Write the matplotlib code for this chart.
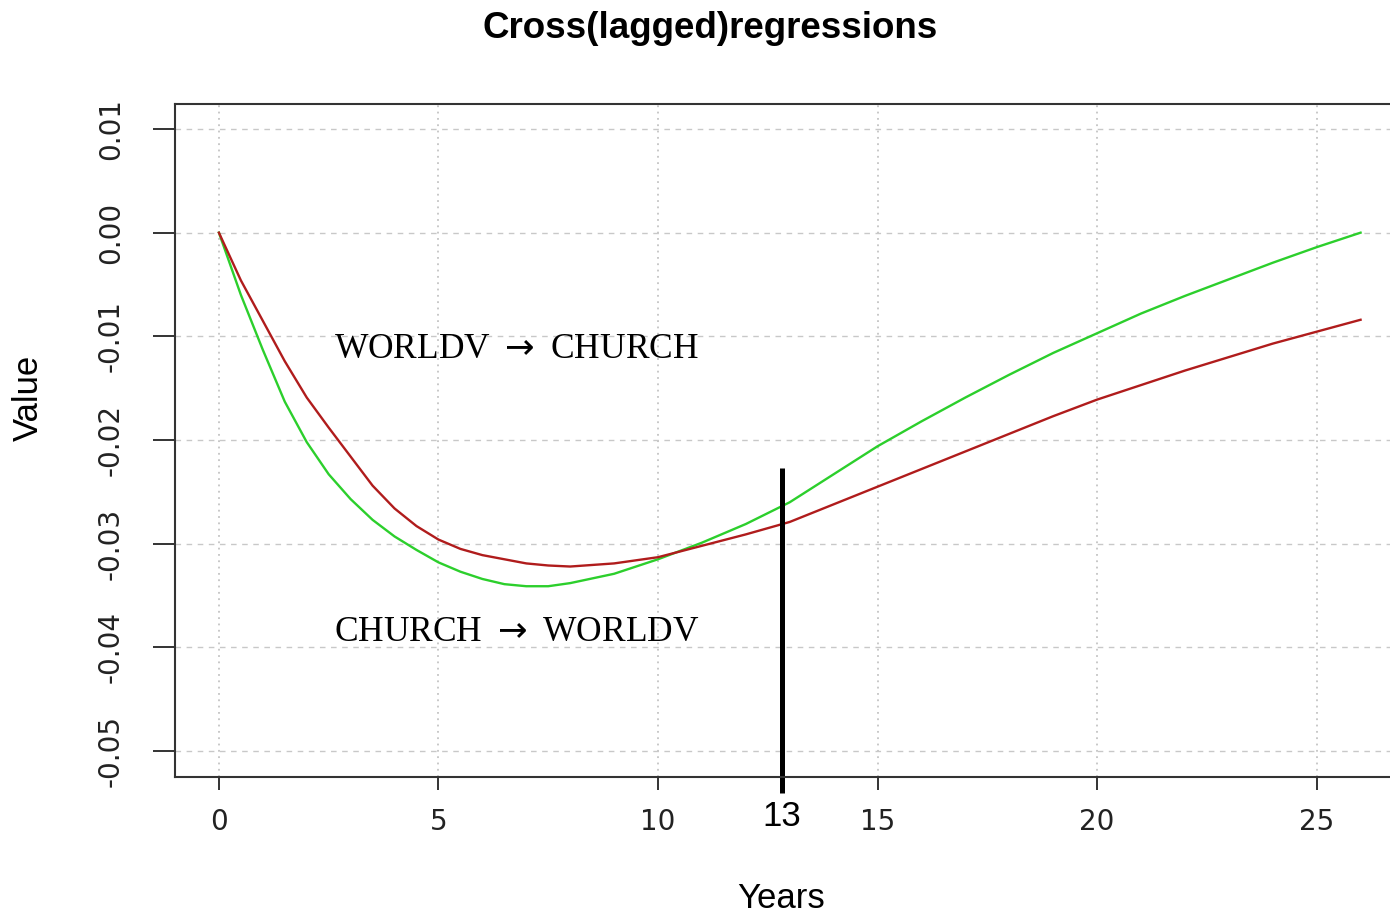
import matplotlib
matplotlib.use("Agg")
import matplotlib.pyplot as plt

# values
years = [0, 0.5, 1, 1.5, 2, 2.5, 3, 3.5, 4, 4.5, 5, 5.5, 6, 6.5, 7, 7.5, 8,
         9, 10, 11, 12, 13, 14, 15, 16, 17, 18, 19, 20, 21, 22, 23, 24, 25, 26]
church_to_worldv = [0, -0.0060, -0.0113, -0.0163, -0.0202, -0.0233, -0.0257, -0.0277,
                    -0.0293, -0.0306, -0.0318, -0.0327, -0.0334, -0.0339, -0.0341, -0.0341,
                    -0.0338, -0.0329, -0.0315, -0.0299, -0.0281, -0.0260, -0.0233, -0.0206,
                    -0.0182, -0.0159, -0.0137, -0.0116, -0.0097, -0.0078, -0.0061, -0.0045,
                    -0.0029, -0.0014, 0.0]
worldv_to_church = [0, -0.0046, -0.0085, -0.0124, -0.0159, -0.0188, -0.0216, -0.0244,
                    -0.0266, -0.0283, -0.0296, -0.0305, -0.0311, -0.0315, -0.0319, -0.0321,
                    -0.0322, -0.0319, -0.0313, -0.0302, -0.0291, -0.0279, -0.0262, -0.0245,
                    -0.0228, -0.0211, -0.0194, -0.0177, -0.0161, -0.0147, -0.0133, -0.0120,
                    -0.0107, -0.00955, -0.0084]
x_ticks = [0, 5, 10, 15, 20, 25]
y_ticks = [0.01, 0.0, -0.01, -0.02, -0.03, -0.04, -0.05]
marker_label = "13"
marker_x = 12.82   # the hand-drawn marker sits a little left of 13
marker_span = (-0.0227, -0.0540)

fig = plt.figure(figsize=(13.9, 9.17), dpi=100)
ax = fig.add_axes([175 / 1390, 1 - 777 / 917, 1 - 175 / 1390, (777 - 104) / 917])

ax.plot(years, church_to_worldv, color="#2ccf2c", lw=1.7, solid_joinstyle="round")
ax.plot(years, worldv_to_church, color="#b01c1c", lw=1.7, solid_joinstyle="round")

ax.set_xlim(-1.0, 26.67)
ax.set_ylim(-0.0525, 0.01241)

ax.set_xticks(x_ticks)
ax.set_xticklabels([str(t) for t in x_ticks], family="DejaVu Sans", color="#222222")
ax.set_yticks(y_ticks)
ax.set_yticklabels(["%.2f" % t for t in y_ticks], family="DejaVu Sans",
                   color="#222222", rotation=90, va="center")
ax.tick_params(axis="x", length=9.5, width=1.4, pad=13, color="#333333", labelsize=20)
ax.tick_params(axis="y", length=16, width=1.4, pad=20, color="#333333", labelsize=20)

ax.xaxis.grid(True, linestyle=(0, (1, 2.5)), color="#c4c4c4", lw=1.3)
ax.yaxis.grid(True, linestyle=(0, (4, 4)), color="#c8c8c8", lw=1.0)
ax.set_axisbelow(True)

ax.spines["right"].set_visible(False)
for s in ["top", "left", "bottom"]:
    ax.spines[s].set_color("#333333")
    ax.spines[s].set_linewidth(1.5)

# vertical marker near year 13
ax.plot([marker_x, marker_x], marker_span, color="black", lw=3.6, clip_on=False,
        solid_capstyle="butt")
ax.text(marker_x, -0.058, marker_label, transform=ax.get_xaxis_transform(), ha="center",
        va="center", fontsize=25, family="Liberation Sans")

serif = ["Liberation Serif", "DejaVu Serif"]
ax.text(2.62, -0.0113, r"WORLDV $\rightarrow$ CHURCH", fontsize=25.5, family=serif,
        va="center", ha="left")
ax.text(2.62, -0.0386, r"CHURCH $\rightarrow$ WORLDV", fontsize=25.5, family=serif,
        va="center", ha="left")

fig.text(710 / 1390, 1 - 29 / 917, "Cross(lagged)regressions", ha="center", va="center",
         fontsize=26.5, fontweight="bold", family="Liberation Sans")
fig.text(28 / 1390, 1 - 398 / 917, "Value", rotation=90, ha="center", va="center",
         fontsize=25, family="Liberation Sans")
fig.text(781 / 1390, 1 - 898 / 917, "Years", ha="center", va="center",
         fontsize=25, family="Liberation Sans")

fig.savefig("out.png", dpi=100)
